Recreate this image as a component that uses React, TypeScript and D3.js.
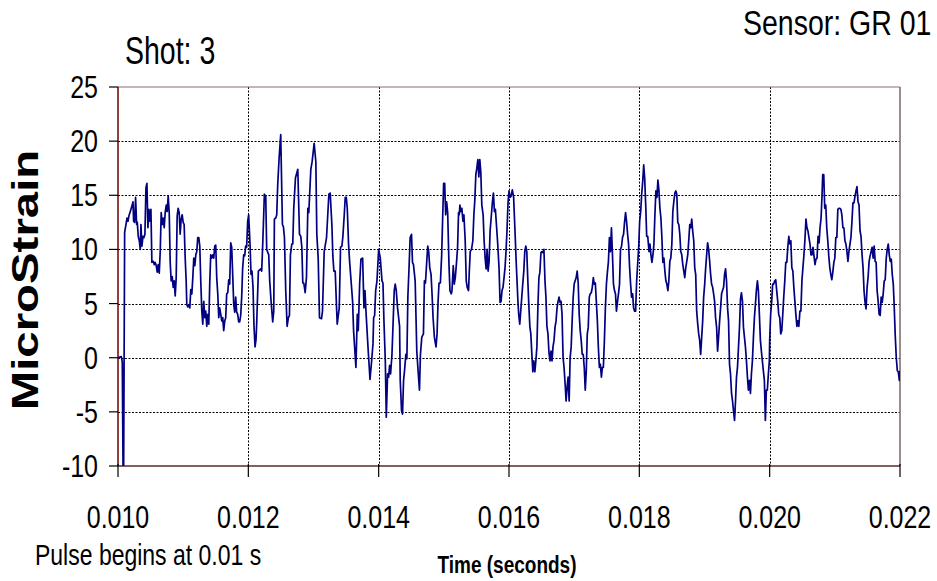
import React from "react";
import * as d3 from "d3";

// ---- Data (time in ms, strain in microstrain) ----
const seg10to12: [number, number][] = [
  [10.000,0.0],[10.051,0.1],[10.066,-0.4],[10.077,-10.0],[10.087,-10.0],[10.102,11.6],[10.122,12.3],[10.138,12.9],[10.153,12.6],[10.168,13.1],[10.184,13.4],[10.199,13.7],[10.214,14.0],[10.230,14.4],[10.240,12.6],[10.255,12.5],[10.270,14.8],[10.286,12.3],[10.296,12.5],[10.311,11.2],[10.327,10.8],[10.342,10.0],[10.352,12.3],[10.367,10.3],[10.383,11.2],[10.398,11.1],[10.413,11.4],[10.429,15.7],[10.444,16.1],[10.459,12.0],[10.474,13.7],[10.490,12.6],[10.505,13.7],[10.520,8.8],[10.541,8.9],[10.556,8.6],[10.571,8.8],[10.587,8.5],[10.602,7.9],[10.617,8.6],[10.633,7.8],[10.648,9.8],[10.663,13.4],[10.679,12.3],[10.694,12.9],[10.709,12.0],[10.724,13.4],[10.740,14.1],[10.755,13.5],[10.770,14.9],[10.786,13.4],[10.801,8.8],[10.816,7.1],[10.832,7.5],[10.847,6.5],[10.862,7.1],[10.878,5.7],[10.893,7.4],[10.908,13.1],[10.923,13.8],[10.939,13.4],[10.954,11.4],[10.969,12.8],[10.985,13.2],[11.000,12.5],[11.015,12.3],[11.031,9.2],[11.046,7.1],[11.056,4.9],[11.071,4.7],[11.087,4.9],[11.102,4.6],[11.117,6.3],[11.133,5.9],[11.148,7.4],[11.163,9.2],[11.179,8.5],[11.194,9.5],[11.209,9.8],[11.224,11.1],[11.240,11.1],[11.255,10.3],[11.270,7.1],[11.286,4.3],[11.301,3.1],[11.316,5.2],[11.332,3.7],[11.347,4.3],[11.362,2.9],[11.378,4.0],[11.393,3.1],[11.408,6.9],[11.423,9.5],[11.439,9.2],[11.454,9.5],[11.469,9.2],[11.485,10.3],[11.500,10.4],[11.515,7.4],[11.531,5.9],[11.546,3.7],[11.561,4.6],[11.577,4.0],[11.592,3.4],[11.607,3.7],[11.622,2.5],[11.638,3.4],[11.653,3.7],[11.668,5.9],[11.684,6.0],[11.699,7.2],[11.714,6.8],[11.730,10.6],[11.745,10.2],[11.760,7.7],[11.776,4.9],[11.791,4.2],[11.806,5.6],[11.821,4.2],[11.837,4.0],[11.852,3.3],[11.867,3.3],[11.883,3.9],[11.898,5.6],[11.913,8.3],[11.929,9.5],[11.944,9.4],[11.959,10.3],[11.974,10.2],[11.990,12.6]
];
const seg12to14: [number, number][] = [
  [12.005,13.2],[12.026,10.5],[12.041,7.7],[12.056,8.0],[12.072,6.5],[12.087,2.9],[12.103,1.0],[12.118,1.7],[12.128,3.1],[12.154,8.0],[12.190,8.2],[12.205,8.0],[12.221,10.5],[12.231,12.3],[12.246,15.1],[12.267,14.9],[12.282,10.0],[12.313,9.5],[12.328,7.1],[12.349,5.2],[12.374,3.3],[12.390,4.3],[12.400,12.8],[12.421,12.9],[12.436,13.2],[12.451,16.0],[12.472,18.4],[12.497,20.6],[12.523,12.3],[12.538,12.1],[12.554,11.1],[12.574,6.2],[12.595,2.9],[12.615,3.7],[12.631,3.9],[12.646,9.5],[12.667,10.5],[12.682,10.5],[12.697,13.8],[12.723,16.6],[12.759,17.4],[12.785,11.4],[12.805,11.2],[12.821,10.2],[12.836,6.9],[12.851,6.9],[12.872,6.0],[12.892,7.4],[12.913,13.8],[12.928,13.4],[12.959,17.4],[12.979,18.1],[13.010,19.8],[13.036,18.1],[13.051,11.4],[13.072,9.2],[13.092,3.7],[13.123,3.6],[13.138,4.3],[13.164,9.8],[13.200,11.1],[13.236,15.1],[13.256,15.2],[13.282,12.3],[13.297,9.4],[13.313,8.0],[13.333,8.0],[13.354,4.6],[13.364,3.1],[13.395,4.6],[13.415,10.2],[13.436,10.3],[13.451,11.2],[13.472,13.2],[13.487,14.8],[13.503,14.8],[13.518,13.8],[13.538,10.5],[13.554,8.9],[13.579,6.9],[13.600,5.2],[13.615,2.5],[13.651,-0.9],[13.672,4.0],[13.687,2.5],[13.708,6.8],[13.728,9.1],[13.754,9.2],[13.774,4.6],[13.790,6.2],[13.805,4.3],[13.836,1.0],[13.867,-2.0],[13.892,-0.3],[13.913,1.3],[13.923,3.7],[13.938,3.9],[13.954,6.2],[13.974,7.1],[14.000,10.0]
];
const seg14to16: [number, number][] = [
  [14.025,9.2],[14.051,7.1],[14.066,6.9],[14.081,3.4],[14.102,-0.3],[14.117,-5.5],[14.137,-1.5],[14.153,-1.8],[14.168,-0.7],[14.183,-1.5],[14.204,0.3],[14.219,2.8],[14.239,6.2],[14.254,6.8],[14.270,6.2],[14.290,4.6],[14.321,2.9],[14.331,-2.1],[14.351,-4.9],[14.366,-5.2],[14.382,-2.1],[14.397,-1.2],[14.417,0.3],[14.433,-0.1],[14.448,5.6],[14.468,8.6],[14.483,11.1],[14.504,11.4],[14.519,8.8],[14.534,8.6],[14.560,7.1],[14.585,0.6],[14.606,-1.3],[14.626,-3.0],[14.641,0.3],[14.662,1.9],[14.687,2.2],[14.702,7.1],[14.718,6.9],[14.738,8.9],[14.753,10.3],[14.768,9.8],[14.784,8.3],[14.804,7.7],[14.819,5.9],[14.835,3.7],[14.855,1.9],[14.880,1.0],[14.896,2.2],[14.911,5.1],[14.926,6.9],[14.947,6.9],[14.967,9.5],[14.982,12.9],[14.997,16.1],[15.013,16.1],[15.028,13.2],[15.043,14.4],[15.059,13.4],[15.079,8.6],[15.094,6.2],[15.115,5.9],[15.125,6.2],[15.145,8.5],[15.160,6.8],[15.176,7.4],[15.196,8.9],[15.211,10.2],[15.226,13.4],[15.237,13.2],[15.247,14.1],[15.262,13.5],[15.277,13.8],[15.293,12.6],[15.308,13.2],[15.328,10.8],[15.344,7.1],[15.359,6.5],[15.379,6.2],[15.389,7.7],[15.405,9.8],[15.425,10.0],[15.445,10.8],[15.461,13.2],[15.476,14.6],[15.491,16.9],[15.506,17.5],[15.522,18.3],[15.537,16.7],[15.552,18.3],[15.567,17.2],[15.583,14.1],[15.603,13.2],[15.618,10.8],[15.634,9.2],[15.649,8.2],[15.664,10.0],[15.679,8.0],[15.695,8.9],[15.710,11.7],[15.730,13.2],[15.746,14.4],[15.761,15.2],[15.776,13.5],[15.791,13.7],[15.807,12.3],[15.827,10.5],[15.847,8.3],[15.863,5.1],[15.878,5.2],[15.893,6.2],[15.908,6.5],[15.924,7.4],[15.939,8.3],[15.954,9.8],[15.969,11.7],[15.985,14.3],[16.000,15.4],[16.015,14.8],[16.031,14.9],[16.051,15.5],[16.071,14.8],[16.092,11.7],[16.112,8.6],[16.137,5.2]
];
const seg16to18: [number, number][] = [
  [16.149,4.0],[16.165,3.1],[16.180,4.3],[16.196,5.6],[16.211,6.8],[16.227,8.0],[16.242,9.8],[16.258,10.3],[16.273,9.8],[16.289,7.1],[16.304,4.9],[16.320,2.9],[16.335,2.2],[16.351,0.3],[16.366,-1.3],[16.381,-0.3],[16.397,-1.3],[16.412,-0.3],[16.428,1.0],[16.443,4.6],[16.459,7.4],[16.474,7.9],[16.490,9.7],[16.505,9.8],[16.521,9.7],[16.536,10.0],[16.552,7.1],[16.567,5.6],[16.582,2.9],[16.598,2.2],[16.613,0.5],[16.629,-0.3],[16.644,0.6],[16.660,-0.3],[16.675,1.0],[16.691,1.6],[16.706,2.8],[16.722,3.4],[16.737,4.6],[16.753,5.2],[16.768,5.6],[16.784,5.1],[16.799,5.2],[16.814,4.0],[16.830,0.0],[16.845,-0.9],[16.861,-2.4],[16.876,-4.0],[16.892,-2.7],[16.907,-1.8],[16.923,-4.0],[16.938,0.0],[16.954,1.0],[16.969,3.4],[16.985,5.6],[17.000,6.8],[17.015,7.1],[17.031,7.4],[17.046,8.0],[17.062,6.9],[17.077,4.0],[17.093,2.5],[17.108,1.6],[17.124,0.3],[17.139,0.3],[17.155,-0.9],[17.170,-3.0],[17.186,-1.2],[17.201,2.2],[17.216,2.8],[17.232,5.6],[17.247,5.9],[17.263,6.0],[17.278,6.5],[17.294,7.4],[17.309,6.8],[17.325,6.9],[17.340,5.2],[17.356,3.4],[17.371,1.0],[17.387,-0.9],[17.402,-0.6],[17.418,-1.8],[17.433,-0.9],[17.448,-0.9],[17.464,1.6],[17.479,4.6],[17.495,6.8],[17.510,7.9],[17.526,8.9],[17.541,11.1],[17.557,9.8],[17.572,12.0],[17.588,9.5],[17.603,6.8],[17.619,6.2],[17.634,5.9],[17.649,4.3],[17.665,5.2],[17.680,5.9],[17.696,6.8],[17.711,10.0],[17.727,10.3],[17.742,11.1],[17.758,11.4],[17.773,12.5],[17.789,13.4],[17.804,12.6],[17.820,11.4],[17.835,10.5],[17.851,8.3],[17.866,6.8],[17.881,5.6],[17.897,5.9],[17.912,4.6],[17.928,4.3],[17.943,4.3],[17.959,7.1],[17.974,8.6],[17.990,10.2],[18.005,12.6],[18.021,13.5],[18.036,15.1],[18.052,16.3],[18.067,17.8],[18.082,16.6],[18.098,14.1],[18.113,11.2],[18.129,11.2],[18.149,9.8]
];
const seg18to20: [number, number][] = [
  [18.163,10.5],[18.178,9.5],[18.193,8.8],[18.209,9.5],[18.224,10.5],[18.239,13.2],[18.254,15.4],[18.270,14.8],[18.285,16.4],[18.300,15.5],[18.316,13.8],[18.331,12.9],[18.346,11.1],[18.361,8.8],[18.377,9.2],[18.392,8.0],[18.407,7.1],[18.422,6.8],[18.438,6.2],[18.453,7.1],[18.468,8.9],[18.483,9.2],[18.499,10.5],[18.514,13.5],[18.529,14.4],[18.545,15.2],[18.560,15.4],[18.575,15.1],[18.590,12.5],[18.606,12.3],[18.621,11.4],[18.636,9.8],[18.651,9.5],[18.667,8.6],[18.682,8.0],[18.697,7.4],[18.712,8.3],[18.728,8.9],[18.743,9.5],[18.758,10.8],[18.774,12.3],[18.789,12.0],[18.804,12.8],[18.819,11.7],[18.835,10.8],[18.850,8.3],[18.865,7.7],[18.880,4.3],[18.896,3.1],[18.911,2.2],[18.926,1.6],[18.941,0.3],[18.957,1.9],[18.972,3.4],[18.987,5.6],[19.003,6.8],[19.018,8.3],[19.033,9.5],[19.048,10.6],[19.064,10.0],[19.079,8.9],[19.094,7.7],[19.109,6.8],[19.125,6.5],[19.140,5.9],[19.155,5.2],[19.170,3.7],[19.186,2.8],[19.201,0.6],[19.216,1.9],[19.232,3.4],[19.247,4.6],[19.262,5.9],[19.277,6.2],[19.293,6.5],[19.308,7.7],[19.323,8.2],[19.338,7.1],[19.354,4.6],[19.369,3.4],[19.384,-0.6],[19.399,-1.5],[19.415,-3.3],[19.430,-4.0],[19.445,-4.9],[19.461,-5.8],[19.476,-4.0],[19.491,-1.8],[19.506,-0.9],[19.522,1.0],[19.537,2.8],[19.552,5.4],[19.567,6.0],[19.583,5.2],[19.598,2.8],[19.613,1.9],[19.628,1.0],[19.644,-0.3],[19.659,-1.8],[19.674,-3.0],[19.690,-2.1],[19.705,-3.3],[19.720,-1.5],[19.735,-0.3],[19.751,1.9],[19.766,3.7],[19.781,4.9],[19.796,6.2],[19.812,7.1],[19.827,6.2],[19.842,4.0],[19.858,1.6],[19.873,0.6],[19.888,-0.3],[19.903,-1.2],[19.919,-2.1],[19.934,-5.8],[19.949,-3.0],[19.964,-3.0],[19.980,-1.5],[19.995,-0.3]
];
const seg20to22: [number, number][] = [
  [20.000,1.6],[20.015,4.0],[20.031,5.2],[20.046,6.8],[20.062,6.8],[20.077,7.1],[20.093,7.2],[20.108,6.2],[20.124,5.2],[20.139,4.0],[20.155,3.7],[20.170,2.2],[20.186,2.5],[20.201,4.0],[20.216,5.6],[20.232,7.1],[20.247,8.8],[20.263,8.8],[20.278,10.2],[20.294,11.2],[20.309,10.5],[20.325,10.8],[20.340,8.3],[20.356,8.0],[20.371,6.5],[20.387,5.2],[20.402,4.0],[20.418,2.9],[20.433,3.4],[20.448,2.9],[20.464,4.3],[20.479,4.3],[20.495,7.1],[20.510,8.3],[20.526,9.5],[20.541,10.9],[20.557,12.8],[20.572,12.0],[20.588,11.7],[20.603,11.1],[20.619,10.5],[20.634,9.5],[20.649,9.5],[20.665,10.2],[20.680,9.4],[20.696,8.6],[20.711,9.1],[20.727,9.2],[20.742,11.2],[20.758,10.6],[20.773,12.0],[20.789,12.9],[20.804,15.1],[20.814,16.9],[20.830,16.9],[20.845,13.8],[20.861,14.1],[20.876,12.0],[20.892,10.8],[20.907,9.4],[20.923,8.3],[20.938,7.7],[20.954,7.2],[20.969,7.9],[20.985,8.8],[21.000,9.2],[21.015,11.1],[21.031,11.1],[21.046,13.7],[21.062,13.8],[21.077,13.8],[21.093,13.7],[21.108,13.2],[21.124,12.0],[21.139,12.0],[21.155,10.8],[21.170,10.5],[21.186,9.8],[21.201,8.9],[21.216,9.8],[21.232,10.5],[21.247,11.1],[21.263,12.6],[21.278,14.3],[21.294,14.3],[21.309,14.9],[21.325,15.4],[21.340,15.8],[21.356,14.4],[21.371,14.1],[21.387,11.7],[21.402,11.2],[21.418,9.5],[21.433,8.3],[21.448,6.2],[21.464,5.1],[21.479,4.5],[21.495,6.5],[21.510,7.4],[21.526,8.9],[21.541,9.4],[21.557,9.8],[21.572,10.2],[21.588,9.2],[21.603,10.3],[21.619,8.9],[21.634,8.8],[21.649,6.2],[21.665,5.2],[21.680,4.0],[21.696,3.9],[21.711,5.6],[21.727,5.1],[21.742,5.9],[21.758,7.1],[21.773,7.2],[21.789,9.2],[21.804,10.0],[21.820,10.5],[21.835,9.5],[21.851,8.9],[21.866,9.1],[21.881,7.7],[21.897,6.8],[21.912,4.6],[21.928,1.9],[21.943,0.0],[21.959,-1.2],[21.974,-1.3],[21.990,-2.1],[22.000,-1.2]
];

const xTicks = [0.010, 0.012, 0.014, 0.016, 0.018, 0.020, 0.022];
const xTickLabels = ["0.010", "0.012", "0.014", "0.016", "0.018", "0.020", "0.022"];
const yTicks = [25, 20, 15, 10, 5, 0, -5, -10];
const yTickLabels = ["25", "20", "15", "10", "5", "0", "-5", "-10"];

const W = 937;
const H = 581;
const FONT = "'Liberation Sans', Arial, sans-serif";
const VS = 1.25; // vertical stretch of the lettering

export default function App() {
  const x = d3.scaleLinear().domain([0.010, 0.022]).range([118, 900]);
  const y = d3.scaleLinear().domain([-10, 25]).range([466, 87]);

  const series = [...seg10to12, ...seg12to14, ...seg14to16, ...seg16to18, ...seg18to20, ...seg20to22];
  const line = d3
    .line<[number, number]>()
    .x((d) => x(d[0] / 1000))
    .y((d) => y(d[1]));

  const [x0, x1] = x.range();
  const [yb, yt] = y.range();

  return (
    <svg
      width={W}
      height={H}
      viewBox={`0 0 ${W} ${H}`}
      style={{ position: "absolute", left: 0, top: 0, background: "#fff" }}
    >
      <defs>
        <clipPath id="plotClip">
          <rect x={x0} y={yt} width={x1 - x0} height={yb - yt} />
        </clipPath>
      </defs>
      <rect x={0} y={0} width={W} height={H} fill="#fff" />

      {/* grid */}
      {yTicks
        .filter((v) => v !== 25 && v !== -10)
        .map((v) => (
          <line key={"gy" + v} x1={x0} x2={x1} y1={Math.round(y(v)) + 0.5} y2={Math.round(y(v)) + 0.5} stroke="#000" strokeWidth={1} strokeDasharray="2,1.5" />
        ))}
      {xTicks
        .filter((v, i) => i !== 0 && i !== xTicks.length - 1)
        .map((v) => (
          <line key={"gx" + v} x1={Math.round(x(v)) + 0.5} x2={Math.round(x(v)) + 0.5} y1={yt} y2={yb} stroke="#000" strokeWidth={1} strokeDasharray="2,1.5" />
        ))}

      {/* frame */}
      <line x1={x0} x2={x1} y1={yt} y2={yt} stroke="#8a6a6a" strokeWidth={1.2} />
      <line x1={x1} x2={x1} y1={yt} y2={yb} stroke="#7a6565" strokeWidth={1.5} />
      <line x1={x0} x2={x1} y1={yb} y2={yb} stroke="#5a2a2a" strokeWidth={1.6} />
      <line x1={x0} x2={x0} y1={yt} y2={yb} stroke="#7a1010" strokeWidth={1.6} />

      {/* ticks */}
      {yTicks.map((v) => (
        <line key={"ty" + v} x1={x0 - 9} x2={x0} y1={y(v)} y2={y(v)} stroke="#000" strokeWidth={1.2} />
      ))}
      {xTicks.map((v) => (
        <line key={"tx" + v} x1={x(v)} x2={x(v)} y1={yb - 2} y2={yb + 11} stroke="#000" strokeWidth={1.2} />
      ))}

      {/* data */}
      <path
        d={line(series) || ""}
        fill="none"
        stroke="#000080"
        strokeWidth={1.7}
        strokeLinejoin="round"
        clipPath="url(#plotClip)"
      />

      {/* tick labels */}
      {yTicks.map((v, i) => (
        <text
          key={"ly" + v}
          transform={`translate(98, ${y(v) + 11}) scale(1, ${VS})`}
          textAnchor="end"
          fontFamily={FONT}
          fontSize={25}
          fill="#000"
        >
          {yTickLabels[i]}
        </text>
      ))}
      {xTicks.map((v, i) => (
        <text
          key={"lx" + v}
          transform={`translate(${x(v)}, 528) scale(1, ${VS})`}
          textAnchor="middle"
          fontFamily={FONT}
          fontSize={25}
          fill="#000"
        >
          {xTickLabels[i]}
        </text>
      ))}

      {/* titles */}
      <text transform={`translate(743, 35) scale(1, ${VS})`} fontFamily={FONT} fontSize={28.5} fill="#000">
        Sensor: GR 01
      </text>
      <text transform={`translate(125, 64) scale(1, 1.38)`} fontFamily={FONT} fontSize={28.5} fill="#000">
        Shot: 3
      </text>
      <text transform={`translate(35, 565) scale(1, ${VS})`} fontFamily={FONT} fontSize={23} fill="#000">
        Pulse begins at 0.01 s
      </text>
      <text
        transform={`translate(507, 573) scale(1, ${VS})`}
        textAnchor="middle"
        fontFamily={FONT}
        fontWeight="bold"
        fontSize={19}
        fill="#000"
      >
        Time (seconds)
      </text>
      <text
        transform={`translate(38, 280) rotate(-90) scale(1.28, 1)`}
        textAnchor="middle"
        fontFamily={FONT}
        fontWeight="bold"
        fontSize={37}
        fill="#000"
      >
        MicroStrain
      </text>
    </svg>
  );
}
